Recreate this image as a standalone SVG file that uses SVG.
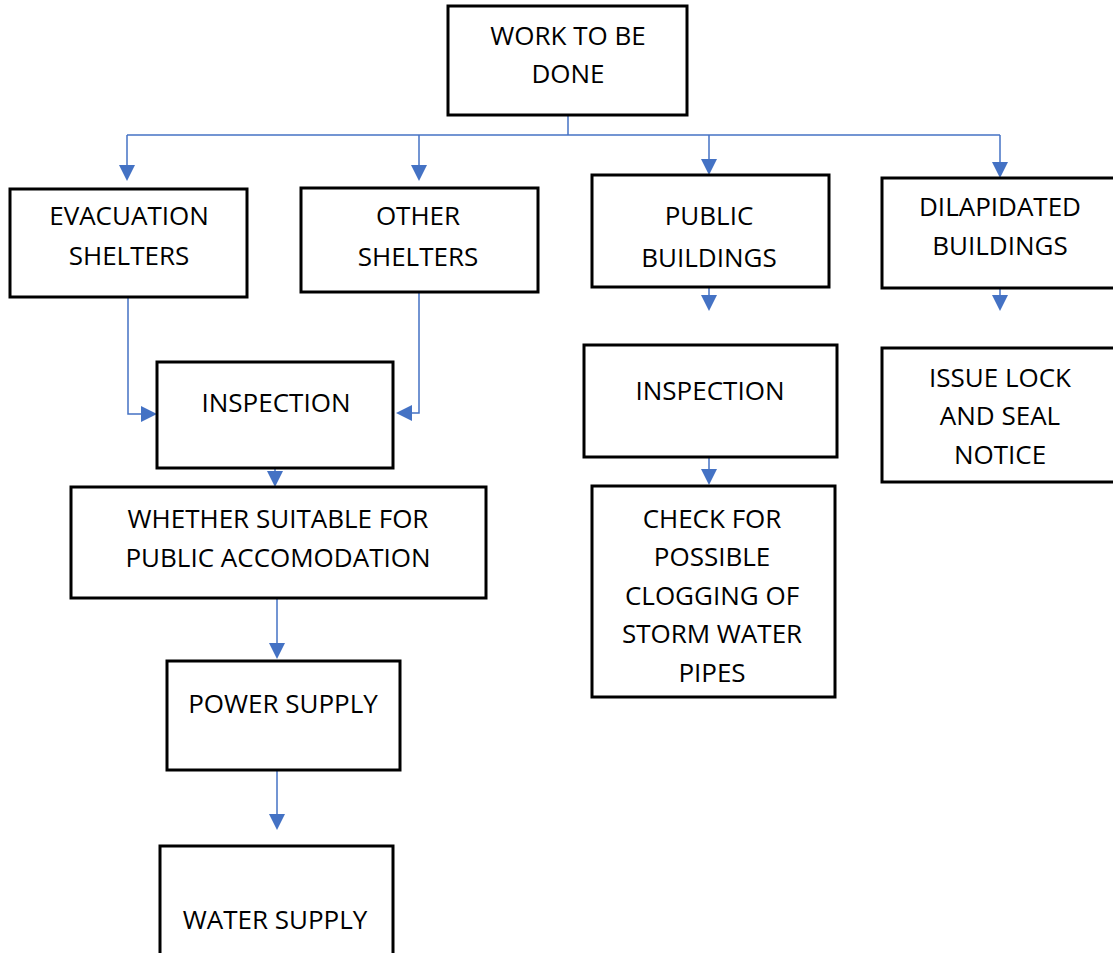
<svg xmlns="http://www.w3.org/2000/svg" width="1113" height="953" viewBox="0 0 1113 953">
  <style>
    .box { fill: #fff; stroke: #000; stroke-width: 3; }
    .lbl { font-family: "Open Sans", "Liberation Sans", sans-serif; font-size: 26px; fill: #000; text-anchor: middle; }
    .wire { fill: none; stroke: #4472C4; stroke-width: 1.5; }
    .head { fill: #4472C4; }
  </style>
  <defs>
    <path id="down" d="M-8,-16 L8,-16 L0,0 Z"/>
    <path id="right" d="M-16,-8 L-16,8 L0,0 Z"/>
    <path id="left" d="M16,-8 L16,8 L0,0 Z"/>
  </defs>

  <rect width="1113" height="953" fill="#fff"/>

  <!-- connectors -->
  <g id="connectors">
    <path class="wire" d="M568,115 V135"/>
    <path class="wire" d="M127,135 H1000"/>
    <path class="wire" d="M127,135 V165"/>
    <path class="wire" d="M419,135 V165"/>
    <path class="wire" d="M709,135 V160"/>
    <path class="wire" d="M1000,135 V163"/>
    <use href="#down" class="head" x="127" y="181"/>
    <use href="#down" class="head" x="419" y="181"/>
    <use href="#down" class="head" x="709" y="175"/>
    <use href="#down" class="head" x="1000" y="178"/>

    <path class="wire" d="M128,297 V414 H145"/>
    <use href="#right" class="head" x="157" y="414"/>
    <path class="wire" d="M419,292 V413 H408"/>
    <use href="#left" class="head" x="396" y="413"/>

    <path class="wire" d="M275,428 V472"/>
    <use href="#down" class="head" x="275" y="487"/>
    <path class="wire" d="M277,598 V645"/>
    <use href="#down" class="head" x="277" y="659"/>
    <path class="wire" d="M277,770 V816"/>
    <use href="#down" class="head" x="277" y="830"/>

    <path class="wire" d="M709,255 V296"/>
    <use href="#down" class="head" x="709" y="311"/>
    <path class="wire" d="M709,420 V470"/>
    <use href="#down" class="head" x="709" y="485"/>

    <path class="wire" d="M1000,253 V296"/>
    <use href="#down" class="head" x="1000" y="311"/>
  </g>

  <g id="work">
    <rect class="box" x="448" y="6" width="239" height="109"/>
    <text class="lbl" x="568" y="45">WORK TO BE</text>
    <text class="lbl" x="568" y="83">DONE</text>
  </g>

  <g id="evacuation">
    <rect class="box" x="10" y="189" width="237" height="108"/>
    <text class="lbl" x="129" y="225">EVACUATION</text>
    <text class="lbl" x="129" y="265">SHELTERS</text>
  </g>

  <g id="other">
    <rect class="box" x="301" y="188" width="237" height="104"/>
    <text class="lbl" x="418" y="225">OTHER</text>
    <text class="lbl" x="418" y="266">SHELTERS</text>
  </g>

  <g id="public">
    <rect class="box" x="592" y="175" width="237" height="112"/>
    <text class="lbl" x="709" y="225">PUBLIC</text>
    <text class="lbl" x="709" y="267">BUILDINGS</text>
  </g>

  <g id="dilapidated">
    <rect class="box" x="882" y="178" width="240" height="110"/>
    <text class="lbl" x="1000" y="216">DILAPIDATED</text>
    <text class="lbl" x="1000" y="255">BUILDINGS</text>
  </g>

  <g id="inspection-shelters">
    <rect class="box" x="157" y="362" width="236" height="106"/>
    <text class="lbl" x="276" y="412">INSPECTION</text>
  </g>

  <g id="suitability">
    <rect class="box" x="71" y="487" width="415" height="111"/>
    <text class="lbl" x="278" y="528">WHETHER SUITABLE FOR</text>
    <text class="lbl" x="278" y="567">PUBLIC ACCOMODATION</text>
  </g>

  <g id="power">
    <rect class="box" x="167" y="661" width="233" height="109"/>
    <text class="lbl" x="283" y="713">POWER SUPPLY</text>
  </g>

  <g id="water">
    <rect class="box" x="160" y="846" width="233" height="115"/>
    <text class="lbl" x="275" y="929">WATER SUPPLY</text>
  </g>

  <g id="inspection-public">
    <rect class="box" x="584" y="345" width="253" height="112"/>
    <text class="lbl" x="710" y="400">INSPECTION</text>
  </g>

  <g id="clogging">
    <rect class="box" x="592" y="486" width="243" height="211"/>
    <text class="lbl" x="712" y="528">CHECK FOR</text>
    <text class="lbl" x="712" y="566">POSSIBLE</text>
    <text class="lbl" x="712" y="605">CLOGGING OF</text>
    <text class="lbl" x="712" y="643">STORM WATER</text>
    <text class="lbl" x="712" y="682">PIPES</text>
  </g>

  <g id="lock-seal">
    <rect class="box" x="882" y="348" width="240" height="134"/>
    <text class="lbl" x="1000" y="387">ISSUE LOCK</text>
    <text class="lbl" x="1000" y="425">AND SEAL</text>
    <text class="lbl" x="1000" y="464">NOTICE</text>
  </g>
</svg>
